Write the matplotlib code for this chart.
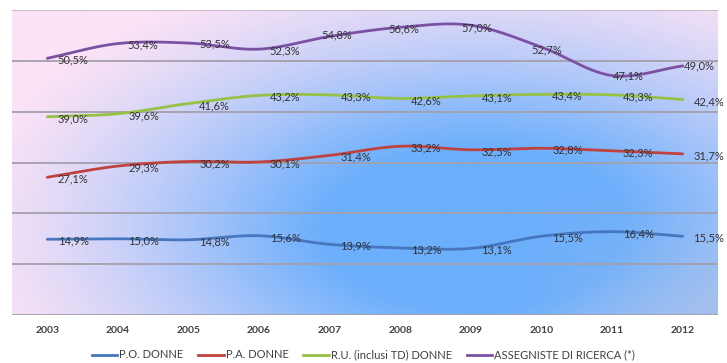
import numpy as np
import matplotlib
matplotlib.use("Agg")
import matplotlib.pyplot as plt
from matplotlib.lines import Line2D

plt.rcParams['font.family'] = ['Lato', 'DejaVu Sans']

years = ['2003', '2004', '2005', '2006', '2007', '2008', '2009', '2010', '2011', '2012']
po_donne = [14.9, 15.0, 14.8, 15.6, 13.9, 13.2, 13.1, 15.5, 16.4, 15.5]
pa_donne = [27.1, 29.3, 30.2, 30.1, 31.4, 33.2, 32.5, 32.8, 32.3, 31.7]
ru_donne = [39.0, 39.6, 41.6, 43.2, 43.3, 42.6, 43.1, 43.4, 43.3, 42.4]
assegniste = [50.5, 53.4, 53.5, 52.3, 54.8, 56.6, 57.0, 52.7, 47.1, 49.0]

series_names = ['P.O. DONNE', 'P.A. DONNE', 'R.U. (inclusi TD) DONNE', 'ASSEGNISTE DI RICERCA (*)']
series_values = [po_donne, pa_donne, ru_donne, assegniste]
series_colors = ['#4677be', '#c0423f', '#95c245', '#7b52a3']

# label offsets in pixels (dx, dy) for each series; default sits to the right
default_offset = (26, -2)
purple_offsets = [(25, -2), (25, -1), (26, -1), (26, -2), (7, 2),
                  (3, -2), (6, -3), (5, -3), (16, 0), (17, 0)]


def smooth(xs, ys, n=24):
    """Catmull-Rom style smoothing between consecutive points."""
    xs = np.asarray(xs, float)
    ys = np.asarray(ys, float)
    px = np.concatenate([[2 * xs[0] - xs[1]], xs, [2 * xs[-1] - xs[-2]]])
    py = np.concatenate([[2 * ys[0] - ys[1]], ys, [2 * ys[-1] - ys[-2]]])
    ox, oy = [], []
    t = np.linspace(0, 1, n, endpoint=False)
    for i in range(1, len(px) - 2):
        p0, p1, p2, p3 = (np.array([px[j], py[j]]) for j in (i - 1, i, i + 1, i + 2))
        c1 = p1 + (p2 - p0) / 6.0
        c2 = p2 - (p3 - p1) / 6.0
        b = ((1 - t) ** 3)[:, None] * p1 + (3 * (1 - t) ** 2 * t)[:, None] * c1 \
            + (3 * (1 - t) * t ** 2)[:, None] * c2 + (t ** 3)[:, None] * p2
        ox.extend(b[:, 0])
        oy.extend(b[:, 1])
    ox.append(xs[-1])
    oy.append(ys[-1])
    return np.array(ox), np.array(oy)


W, H = 727, 363
fig = plt.figure(figsize=(W / 100, H / 100), dpi=100)
left, right, top, bottom = 12, 718, 10, 315
ax = fig.add_axes([left / W, 1 - bottom / H, (right - left) / W, (bottom - top) / H])

x = np.arange(len(years))
ax.set_xlim(-0.5, len(years) - 0.5)
ax.set_ylim(0, 60)

# plot-area gradient: pink at the edges, blue toward the middle-right
gw, gh = 300, 130
gx = np.linspace(0, 1, gw)[None, :]
gy = np.linspace(0, 1, gh)[:, None]   # 0 = top
pink = np.array([252, 227, 246]) / 255
blue = np.array([108, 175, 252]) / 255
lowblue = np.array([162, 190, 232]) / 255
d = ((gx - 0.66) / 0.50) ** 2 + ((gy - 0.72) / 0.62) ** 2
w = np.clip(np.exp(-d * 1.2), 0, 1)
w = np.clip((w - 0.08) / 0.72, 0, 1) ** 0.85
img = pink[None, None, :] * (1 - w[..., None]) + blue[None, None, :] * w[..., None]
corner = np.clip((gx - 0.72) / 0.28, 0, 1) * np.clip((gy - 0.55) / 0.45, 0, 1)
img = img * (1 - 0.7 * corner[..., None]) + lowblue[None, None, :] * 0.7 * corner[..., None]
ax.imshow(img, extent=[-0.5, len(years) - 0.5, 0, 60], aspect='auto',
          interpolation='bicubic', zorder=0)

for yv in range(0, 61, 10):
    ax.axhline(yv, color='#a49fac' if yv < 60 else '#c3b4c4', lw=1.3, zorder=1)

for name, vals, col in zip(series_names, series_values, series_colors):
    sx, sy = smooth(x, vals)
    ax.plot(sx, sy, color=col, lw=2.0, solid_capstyle='round', zorder=3)
    offsets = purple_offsets if vals is assegniste else [default_offset] * len(vals)
    for xi, v, (dx, dy) in zip(x, vals, offsets):
        ax.annotate(f"{v:.1f}%".replace('.', ','), (xi, v),
                    xytext=(dx * 0.72, dy * 0.72), textcoords='offset points',
                    ha='center', va='center', fontsize=8, color='#333333', zorder=4)

for s in ax.spines.values():
    s.set_visible(False)
ax.set_yticks([])
ax.set_xticks(x)
ax.set_xticklabels(years, fontsize=7.5, color='#404040', fontweight='bold')
ax.tick_params(axis='x', length=0, pad=8)

handles = [Line2D([], [], color=c, lw=2.0) for c in series_colors]
fig.legend(handles, series_names, loc='center', bbox_to_anchor=(0.5, 1 - 355 / H),
           ncol=4, frameon=False, fontsize=8, handlelength=2.3, handletextpad=0.2,
           columnspacing=1.3, labelcolor='#404040')

fig.savefig('out.png', dpi=100, facecolor='white')
